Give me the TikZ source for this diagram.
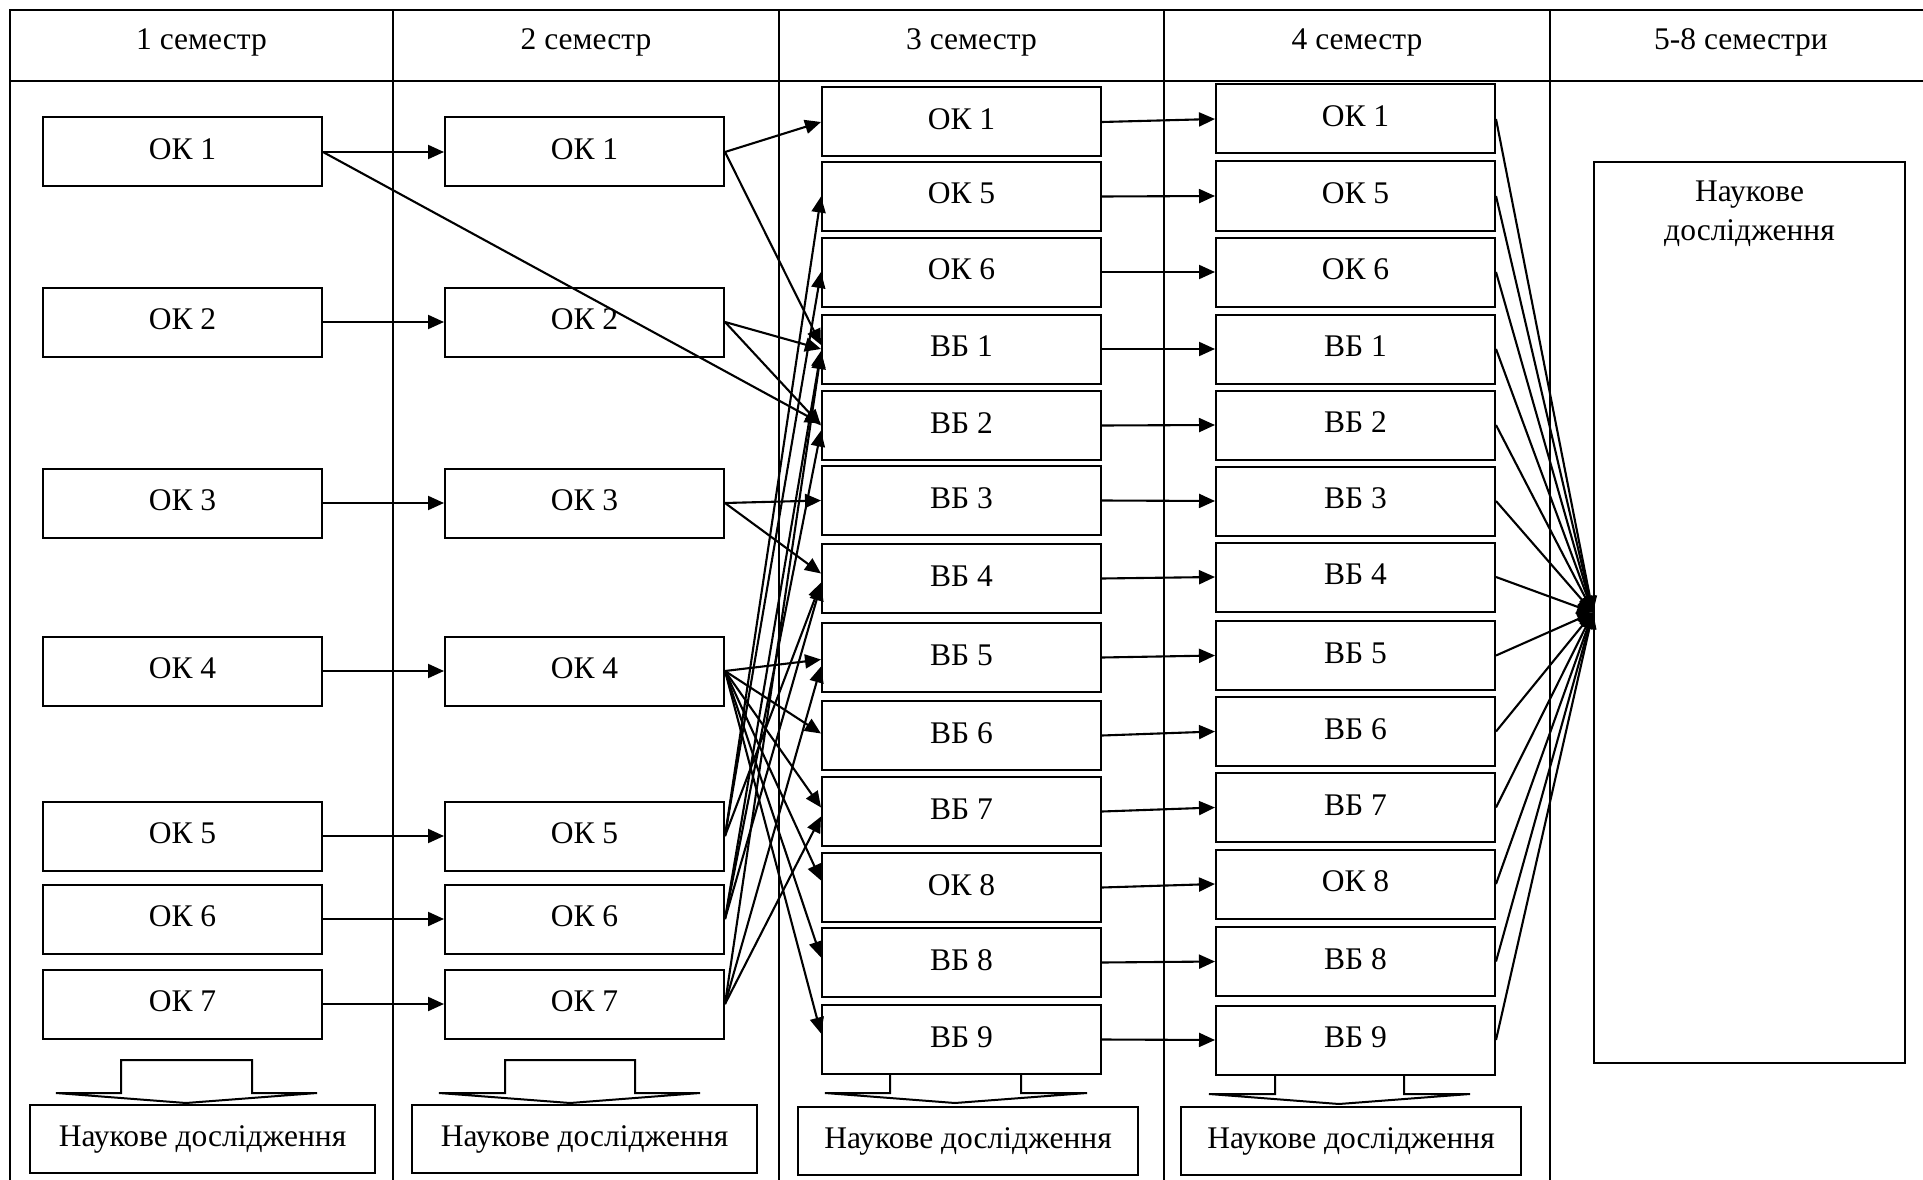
\documentclass[tikz,border=0pt]{standalone}
\usepackage{fontspec}
\setmainfont{Liberation Serif}
\usetikzlibrary{arrows.meta,calc}
\begin{document}
\begin{tikzpicture}[x=1pt,y=-1pt,
  txt/.style={font=\fontsize{31.5}{39}\selectfont},
  box/.style={draw, line width=2pt, minimum width=279pt, minimum height=69pt, inner sep=0pt, text height=21pt, text depth=6pt, txt},
  res/.style={draw, line width=2pt, minimum height=68pt, inner sep=0pt, txt},
  hdr/.style={inner sep=0pt, txt},
  conn/.style={line width=2.1pt, -{Triangle[length=16pt,width=14pt]}},
  gridline/.style={line width=2pt},
  blk/.style={line width=2pt, line join=miter}]

\fill[white] (0,0) rectangle (1923,1180);
\useasboundingbox (0,0) rectangle (1923,1180);

% table
\draw[gridline] (1923,10) -- (10,10) -- (10,1180);
\draw[gridline] (10,81) -- (1923,81);
\foreach \xx in {393,779,1164,1550} \draw[gridline] (\xx,10) -- (\xx,1180);

% headers
\node[hdr] (h1) at (201.5,42) {1 семестр};
\node[hdr] (h2) at (586,42) {2 семестр};
\node[hdr] (h3) at (971.5,42) {3 семестр};
\node[hdr] (h4) at (1357,42) {4 семестр};
\node[hdr] (h5) at (1741,42) {5-8 семестри};

% semester 1
\node[box] (a1) at (182.5,152) {ОК 1};
\node[box] (a2) at (182.5,322) {ОК 2};
\node[box] (a3) at (182.5,503) {ОК 3};
\node[box] (a4) at (182.5,671) {ОК 4};
\node[box] (a5) at (182.5,836) {ОК 5};
\node[box] (a6) at (182.5,919) {ОК 6};
\node[box] (a7) at (182.5,1004) {ОК 7};

% semester 2
\node[box] (b1) at (584.5,152) {ОК 1};
\node[box] (b2) at (584.5,322) {ОК 2};
\node[box] (b3) at (584.5,503) {ОК 3};
\node[box] (b4) at (584.5,671) {ОК 4};
\node[box] (b5) at (584.5,836) {ОК 5};
\node[box] (b6) at (584.5,919) {ОК 6};
\node[box] (b7) at (584.5,1004) {ОК 7};

% semester 3
\node[box] (c1)  at (961.5,122)   {ОК 1};
\node[box] (c5)  at (961.5,196.5) {ОК 5};
\node[box] (c6)  at (961.5,272)   {ОК 6};
\node[box] (cv1) at (961.5,349)   {ВБ 1};
\node[box] (cv2) at (961.5,425.5) {ВБ 2};
\node[box] (cv3) at (961.5,500.5) {ВБ 3};
\node[box] (cv4) at (961.5,578.5) {ВБ 4};
\node[box] (cv5) at (961.5,657.5) {ВБ 5};
\node[box] (cv6) at (961.5,735.5) {ВБ 6};
\node[box] (cv7) at (961.5,811.5) {ВБ 7};
\node[box] (c8)  at (961.5,887.5) {ОК 8};
\node[box] (cv8) at (961.5,962.5) {ВБ 8};
\node[box] (cv9) at (961.5,1039.5) {ВБ 9};

% semester 4
\node[box] (d1)  at (1355.5,119)   {ОК 1};
\node[box] (d5)  at (1355.5,196)   {ОК 5};
\node[box] (d6)  at (1355.5,272)   {ОК 6};
\node[box] (dv1) at (1355.5,349)   {ВБ 1};
\node[box] (dv2) at (1355.5,425)   {ВБ 2};
\node[box] (dv3) at (1355.5,501)   {ВБ 3};
\node[box] (dv4) at (1355.5,577)   {ВБ 4};
\node[box] (dv5) at (1355.5,655.5) {ВБ 5};
\node[box] (dv6) at (1355.5,731.5) {ВБ 6};
\node[box] (dv7) at (1355.5,807.5) {ВБ 7};
\node[box] (d8)  at (1355.5,884)   {ОК 8};
\node[box] (dv8) at (1355.5,961.5) {ВБ 8};
\node[box] (dv9) at (1355.5,1040)  {ВБ 9};

% semesters 5-8
\node[draw, line width=2pt, minimum width=311pt, minimum height=901pt, inner sep=0pt] (big) at (1749.5,612.5) {};
\node[hdr, align=center] (bigt) at (1749.5,214) {Наукове\\дослідження};

% research boxes
\node[res, minimum width=345pt] (r1) at (202.5,1139) {Наукове дослідження};
\node[res, minimum width=345pt] (r2) at (584.5,1139) {Наукове дослідження};
\node[res, minimum width=340pt] (r3) at (968,1141) {Наукове дослідження};
\node[res, minimum width=340pt] (r4) at (1351,1141) {Наукове дослідження};

% block arrows
\draw[blk] (121,1060) -- (252,1060) -- (252,1093) -- (317,1093) -- (186,1103) -- (56,1093) -- (121,1093) -- cycle;
\draw[blk] (505,1060) -- (635,1060) -- (635,1093) -- (700,1093) -- (570,1103) -- (439,1093) -- (505,1093) -- cycle;
\draw[blk] (890,1074) -- (890,1093) -- (825,1093) -- (955,1103) -- (1087,1093) -- (1021,1093) -- (1021,1074);
\draw[blk] (1275,1075) -- (1275,1094) -- (1209,1094) -- (1339,1104) -- (1470,1094) -- (1404,1094) -- (1404,1075);

% semester 1 -> 2
\foreach \i in {1,...,7} \draw[conn] (a\i.east) -- (b\i.west);
\draw[conn] (a1.east) -- ($(cv2.west)+(0,-2)$);

% semester 2 -> 3
\draw[conn] (b1.east) -- (c1.west);
\draw[conn] (b1.east) -- ($(cv1.west)+(0,-4)$);
\draw[conn] (b2.east) -- (cv1.west);
\draw[conn] (b2.east) -- (cv2.west);
\draw[conn] (b3.east) -- (cv3.west);
\draw[conn] (b3.east) -- ($(cv4.west)+(0,-5)$);
\draw[conn] (b4.east) -- ($(cv5.west)+(0,2)$);
\draw[conn] (b4.east) -- ($(cv6.west)+(0,-2)$);
\draw[conn] (b4.east) -- ($(cv7.west)+(0,-4)$);
\draw[conn] (b4.east) -- ($(c8.west)+(0,-7)$);
\draw[conn] (b4.east) -- ($(cv8.west)+(0,-5)$);
\draw[conn] (b4.east) -- ($(cv9.west)+(0,-6)$);
\draw[conn] (b5.east) -- (c5.west);
\draw[conn] (b5.east) -- (c6.west);
\draw[conn] (b5.east) -- ($(cv4.west)+(0,4)$);
\draw[conn] (b6.east) -- ($(cv1.west)+(0,2)$);
\draw[conn] (b6.east) -- ($(cv2.west)+(0,5)$);
\draw[conn] (b6.east) -- ($(cv4.west)+(0,6)$);
\draw[conn] (b7.east) -- ($(cv1.west)+(0,4)$);
\draw[conn] (b7.east) -- ($(cv5.west)+(0,9)$);
\draw[conn] (b7.east) -- ($(cv7.west)+(0,5)$);

% semester 3 -> 4
\draw[conn] (c1.east) -- (d1.west);
\draw[conn] (c5.east) -- (d5.west);
\draw[conn] (c6.east) -- (d6.west);
\foreach \i in {1,...,9} \draw[conn] (cv\i.east) -- (dv\i.west);
\draw[conn] (c8.east) -- (d8.west);

% semester 4 -> research
\foreach \n in {d1,d5,d6,dv1,dv2,dv3,dv4,dv5,dv6,dv7,d8,dv8,dv9}
  \draw[conn] (\n.east) -- (big.west);
\end{tikzpicture}
\end{document}
